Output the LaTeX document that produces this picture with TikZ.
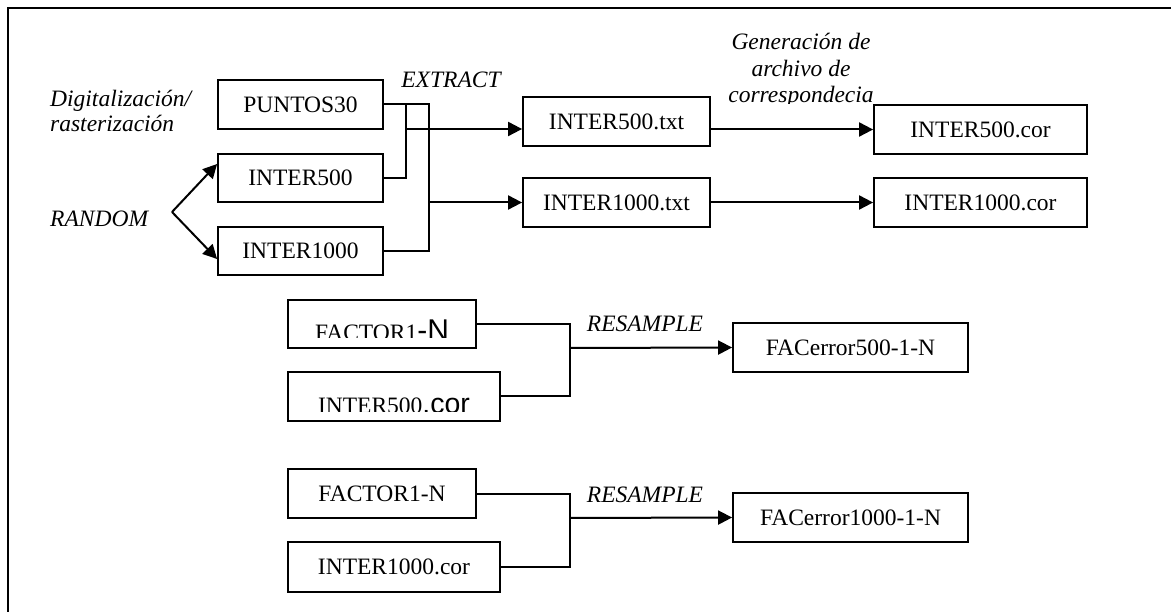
\documentclass[tikz,border=0pt]{standalone}
\usepackage{fontspec}
\setmainfont{Liberation Serif}
\newfontfamily\arialfont{Liberation Sans}
\usetikzlibrary{arrows.meta,calc}
\begin{document}
\begin{tikzpicture}[x=1pt,y=-1pt,
  every node/.style={font=\fontsize{23.5}{26}\selectfont},
  box/.style={draw, line width=1.8pt, minimum height=48pt, inner sep=0pt},
  lbl/.style={font=\fontsize{23.5}{26}\selectfont\itshape, inner sep=0pt},
  wire/.style={line width=2pt},
  arr/.style={wire, -{Triangle[length=14pt,width=14pt]}},
]
\useasboundingbox (0,0) rectangle (1171,612);
\draw[line width=1.6pt] (1171,8) -- (8,8) -- (8,612);

% top boxes
\node[box, minimum width=165pt, minimum height=49pt] (p30) at (300.5,104.5) {PUNTOS30};
\node[box, minimum width=165pt] (i500) at (300.5,178) {INTER500};
\node[box, minimum width=165pt] (i1000) at (300.5,251) {INTER1000};
\node[box, minimum width=187pt, minimum height=49pt] (t500) at (616.5,121.5) {INTER500.txt};
\node[box, minimum width=187pt, minimum height=49pt] (t1000) at (616.5,202.5) {INTER1000.txt};
\node[box, minimum width=213pt, minimum height=49pt] (c500) at (980.5,129.5) {INTER500.cor};
\node[box, minimum width=213pt, minimum height=49pt] (c1000) at (980.5,202.5) {INTER1000.cor};

% lower boxes
\node[box, minimum width=188pt] (fa) at (382,324) {};
\node[box, minimum width=212pt, minimum height=49pt] (ia) at (394,396.5) {};
\node[box, minimum width=235pt, minimum height=49pt] (ea) at (850.5,347.5) {FACerror500-1-N};
\node[box, minimum width=188pt, minimum height=49pt] (fb) at (382,493.5) {FACTOR1-N};
\node[box, minimum width=212pt, minimum height=50pt] (ib) at (394,567) {INTER1000.cor};
\node[box, minimum width=235pt, minimum height=49pt] (eb) at (850.5,517.5) {FACerror1000-1-N};

% clipped texts
\begin{scope}
\clip (fa.north west) rectangle (476,338);
\node[anchor=base, inner sep=0pt] (fat) at (382,341) {FACTOR1{\arialfont\fontsize{30}{32}\selectfont -N}};
\end{scope}
\begin{scope}
\clip (ia.north west) rectangle (500,411.5);
\node[anchor=base, inner sep=0pt] (iat) at (394,414) {INTER500{\arialfont\fontsize{28.5}{30}\selectfont .cor}};
\end{scope}

% labels
\node[lbl, anchor=base west] (dig1) at (50,107) {Digitalización/};
\node[lbl, anchor=base west] (dig2) at (50,132) {rasterización};
\node[lbl, anchor=base west] (rnd) at (50,227) {RANDOM};
\node[lbl, anchor=base] (ext) at (451,88) {EXTRACT};
\node[lbl, anchor=base] (g1) at (801,50) {Generación de};
\node[lbl, anchor=base] (g2) at (801,77) {archivo de};
\begin{scope}
\clip (700,80) rectangle (900,103.5);
\node[lbl, anchor=base] (g3) at (801,103) {correspondecia};
\end{scope}
\node[lbl, anchor=base] (rs1) at (645,332) {RESAMPLE};
\node[lbl, anchor=base] (rs2) at (645,502) {RESAMPLE};

% random arrows
\coordinate (rv) at (172,212);
\draw[arr] (rv) -- ($(i500.west)+(0,-14)$);
\draw[arr] (rv) -- ($(i1000.west)+(0,8)$);

% extract connectors
\coordinate (j1) at (406,104.5);
\coordinate (j2) at (429,104.5);
\draw[wire] (p30.east) -- (j2) -- (j2 |- i1000.east) -- (i1000.east);
\draw[wire] (i500.east) -| (j1);
\coordinate (s1) at (406,129);
\coordinate (s2) at (429,202.5);
\draw[arr] (s1) -- (s1 -| t500.west);
\draw[arr] (s2) -- (t1000.west);
\draw[arr] (t500.east |- c500.west) -- (c500.west);
\draw[arr] (t1000.east) -- (c1000.west);

% resample connectors
\coordinate (ma) at (570,348);
\draw[wire] (fa.east) -| (ma);
\draw[wire] (ia.east) -| (ma);
\draw[arr] (ma) -- (ea.west);
\coordinate (mb) at (570,518);
\draw[wire] (fb.east) -| (mb);
\draw[wire] (ib.east) -| (mb);
\draw[arr] (mb) -- (eb.west);
\end{tikzpicture}
\end{document}
